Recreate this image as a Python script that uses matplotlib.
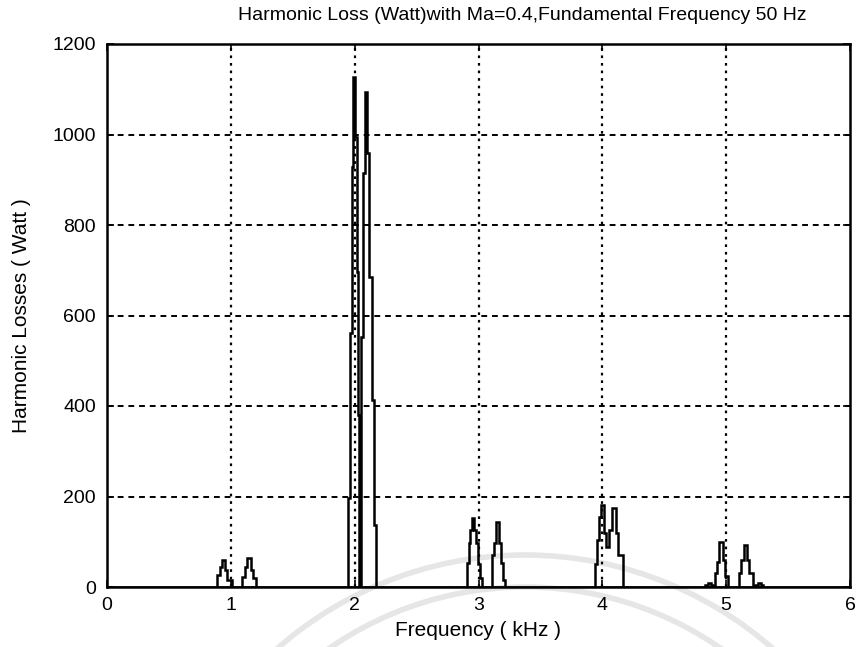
import matplotlib
matplotlib.use("Agg")
import matplotlib.pyplot as plt
from matplotlib import font_manager
from matplotlib.patches import Arc

# Harmonic loss clusters: bin edges in kHz and stepped loss levels in watts
edges_1k_a = [0.889, 0.913, 0.929, 0.953, 0.969, 1.010]
loss_1k_a = [26, 44, 60, 38, 15]
edges_1k_b = [1.090, 1.115, 1.131, 1.163, 1.179, 1.204]
loss_1k_b = [22, 44, 64, 38, 20]

edges_2k = [1.947, 1.963, 1.979, 1.987, 2.005, 2.019, 2.027, 2.035,
            2.052, 2.068, 2.084, 2.101, 2.116, 2.141, 2.157, 2.173]
loss_2k = [197, 561, 928, 1127, 994, 696, 380, 0,
           553, 915, 1094, 959, 685, 413, 137]

edges_3k_a = [2.908, 2.921, 2.929, 2.945, 2.962, 2.978, 2.994, 3.010, 3.029]
loss_3k_a = [53, 97, 126, 152, 126, 97, 50, 20]
edges_3k_b = [3.110, 3.126, 3.138, 3.166, 3.182, 3.198, 3.215]
loss_3k_b = [70, 97, 144, 97, 53, 15]

edges_4k = [3.942, 3.955, 3.971, 3.990, 4.015, 4.031, 4.055, 4.080,
            4.111, 4.128, 4.168]
loss_4k = [50, 104, 155, 181, 120, 88, 126, 175, 119, 70]

edges_5k_a = [4.830, 4.850, 4.875, 4.895]
loss_5k_a = [5, 9, 5]
edges_5k_b = [4.911, 4.927, 4.943, 4.975, 4.992, 5.016]
loss_5k_b = [30, 55, 100, 60, 25]
edges_5k_c = [5.105, 5.121, 5.145, 5.170, 5.186, 5.218]
loss_5k_c = [30, 60, 93, 60, 30]
edges_5k_d = [5.234, 5.255, 5.280, 5.299]
loss_5k_d = [4, 8, 4]

clusters = [
    (edges_1k_a, loss_1k_a), (edges_1k_b, loss_1k_b),
    (edges_2k, loss_2k),
    (edges_3k_a, loss_3k_a), (edges_3k_b, loss_3k_b),
    (edges_4k, loss_4k),
    (edges_5k_a, loss_5k_a), (edges_5k_b, loss_5k_b),
    (edges_5k_c, loss_5k_c), (edges_5k_d, loss_5k_d),
]

x_ticks = [0, 1, 2, 3, 4, 5, 6]
y_ticks = [0, 200, 400, 600, 800, 1000, 1200]

title_text = "Harmonic Loss (Watt)with Ma=0.4,Fundamental Frequency 50 Hz"
x_label = "Frequency ( kHz )"
y_label = "Harmonic Losses ( Watt )"

names = {f.name for f in font_manager.fontManager.ttflist}
family = "Liberation Sans" if "Liberation Sans" in names else "DejaVu Sans"
plt.rcParams["font.family"] = [family, "DejaVu Sans"]

W, H = 859, 647
fig = plt.figure(figsize=(W / 100, H / 100), dpi=100)

# faint seal arcs printed behind the chart
bg = fig.add_axes([0, 0, 1, 1], zorder=0)
bg.set_xlim(0, W)
bg.set_ylim(H, 0)
bg.axis("off")
for r in (375, 343):
    bg.add_patch(Arc((525, 930), 2 * r, 2 * r, theta1=180, theta2=360,
                     color="#e6e6e6", lw=4))

ax = fig.add_axes([107 / W, 1 - 587 / H, (850 - 107) / W, (587 - 44) / H],
                  zorder=1)
ax.patch.set_alpha(0)

# zero baseline across the whole band
ax.plot([0, 6], [0, 0], color="black", lw=1.8, zorder=3)
for edges, loss in clusters:
    ax.stairs(loss, edges, baseline=0, color="black", lw=1.8, zorder=3)

ax.set_xlim(0, 6)
ax.set_ylim(0, 1200)
ax.set_xticks(x_ticks)
ax.set_yticks(y_ticks)
ax.set_xticklabels([str(v) for v in x_ticks], fontsize=14)
ax.set_yticklabels([str(v) for v in y_ticks], fontsize=14)
ax.tick_params(direction="in", length=5, width=1.2, top=True, right=True,
               colors="black", pad=7)
ax.tick_params(axis="y", pad=8)

for v in x_ticks[1:-1]:
    ax.axvline(v, color="black", lw=1.6, ls=(0, (1.2, 2.2)), zorder=1)
for v in y_ticks[1:-1]:
    ax.axhline(v, color="black", lw=1.4, ls=(0, (3, 2.5)), zorder=1)

for s in ax.spines.values():
    s.set_linewidth(1.8)
    s.set_color("black")

fig.text(522 / W, 1 - 15 / H, title_text, ha="center", va="center",
         fontsize=14)
fig.text(478 / W, 1 - 631 / H, x_label, ha="center", va="center",
         fontsize=15)
fig.text(22 / W, 1 - 316 / H, y_label, ha="center", va="center",
         fontsize=15, rotation=90)

fig.savefig("out.png", dpi=100, facecolor="white")
